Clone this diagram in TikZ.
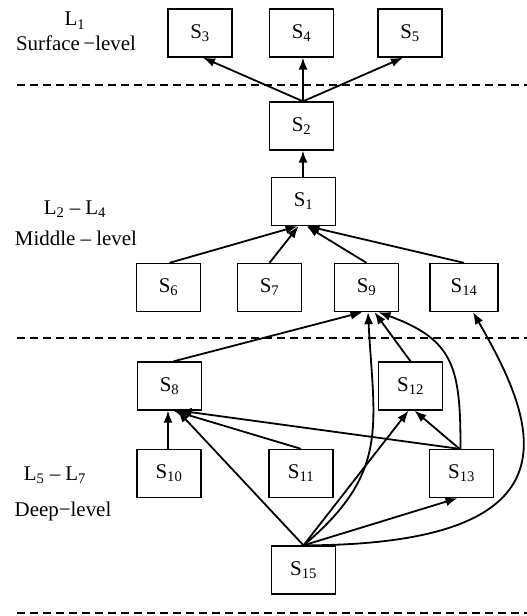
\documentclass[tikz,border=0pt]{standalone}
\usepackage{fontspec}
\setmainfont{Liberation Serif}
\usetikzlibrary{arrows.meta}
\begin{document}
\begin{tikzpicture}[x=1bp,y=-1bp,
  box/.style={draw,line width=1.3bp,minimum width=64bp,minimum height=48bp,inner sep=0pt,font=\fontsize{21}{24}\selectfont},
  lbl/.style={font=\fontsize{21}{24}\selectfont,inner sep=0pt,anchor=base},
  arr/.style={line width=1.8bp,-{Latex[length=12bp,width=9bp]}},
  sep/.style={line width=1.3bp,dash pattern=on 8bp off 5bp}]
\useasboundingbox (0,0) rectangle (527,616);
% levels
\coordinate (d1a) at (17,85);  \coordinate (d1b) at (527,85);
\coordinate (d2a) at (17,338); \coordinate (d2b) at (527,338);
\coordinate (d3a) at (17,613); \coordinate (d3b) at (527,613);
\draw[sep] (d1a) -- (d1b);
\draw[sep] (d2a) -- (d2b);
\draw[sep] (d3a) -- (d3b);
% labels
\node[lbl] (l1) at (75,26) {L\textsubscript{1}};
\node[lbl] (l1b) at (76,51) {Surface\,−level};
\node[lbl] (l2) at (75,214) {L\textsubscript{2} – L\textsubscript{4}};
\node[lbl] (l2b) at (76,245) {Middle – level};
\node[lbl] (l3) at (55,480) {L\textsubscript{5} – L\textsubscript{7}};
\node[lbl] (l3b) at (63,516) {Deep−level};
% boxes
\node[box] (S3) at (200,33) {S\textsubscript{3}};
\node[box] (S4) at (301.5,33) {S\textsubscript{4}};
\node[box] (S5) at (410,33) {S\textsubscript{5}};
\node[box] (S2) at (301.5,126) {S\textsubscript{2}};
\node[box] (S1) at (303.5,201.5) {S\textsubscript{1}};
\node[box] (S6) at (168.5,287.5) {S\textsubscript{6}};
\node[box] (S7) at (269.5,287.5) {S\textsubscript{7}};
\node[box] (S9) at (366.5,287.5) {S\textsubscript{9}};
\node[box,minimum width=68bp] (S14) at (464,287.5) {S\textsubscript{14}};
\node[box] (S8) at (169.5,386) {S\textsubscript{8}};
\node[box] (S12) at (410.5,386) {S\textsubscript{12}};
\node[box] (S10) at (169,473.5) {S\textsubscript{10}};
\node[box] (S11) at (301,473.5) {S\textsubscript{11}};
\node[box] (S13) at (461.5,473.5) {S\textsubscript{13}};
\node[box] (S15) at (303.5,570) {S\textsubscript{15}};
% surface arrows
\draw[arr] ([xshift=1.5bp]S2.north) -- ([xshift=3bp]S3.south);
\draw[arr] ([xshift=1.5bp]S2.north) -- ([xshift=1.5bp]S4.south);
\draw[arr] ([xshift=1.5bp]S2.north) -- ([xshift=-7bp]S5.south);
\draw[arr] ([xshift=-0.5bp]S1.north) -- ([xshift=1.5bp]S2.south);
% middle arrows
\draw[arr] ([xshift=1bp]S6.north) -- ([xshift=-6bp]S1.south);
\draw[arr] (S7.north) -- ([xshift=-5bp]S1.south);
\draw[arr] (S9.north) -- ([xshift=3bp]S1.south);
\draw[arr] (S14.north) -- ([xshift=4bp]S1.south);
% deep arrows
\draw[arr] ([xshift=4bp]S8.north) -- ([xshift=-4bp]S9.south);
\draw[arr] (S12.north) -- ([xshift=8bp]S9.south);
\draw[arr] (S15.north) to[out=40,in=-87,looseness=1.2] ([xshift=1.5bp]S9.south);
\draw[arr] ([xshift=-1bp]S13.north) to[out=90,in=-20,looseness=1.3] ([xshift=12bp]S9.south);
\draw[arr] (S15.north) .. controls (590,545) and (535,420) .. ([xshift=9bp]S14.south);
\draw[arr] (S15.north) -- ([xshift=-2bp]S12.south);
\draw[arr] (S15.north) -- ([xshift=-4bp]S13.south);
\draw[arr] (S15.north) -- ([xshift=8bp]S8.south);
\draw[arr] ([xshift=-1bp]S10.north) -- ([xshift=-1.5bp]S8.south);
\draw[arr] (S11.north) -- ([xshift=4bp]S8.south);
\draw[arr] ([xshift=-2bp]S13.north) -- ([xshift=10bp]S8.south);
\draw[arr] ([xshift=-2bp]S13.north) -- ([xshift=4bp]S12.south);
\end{tikzpicture}
\end{document}
